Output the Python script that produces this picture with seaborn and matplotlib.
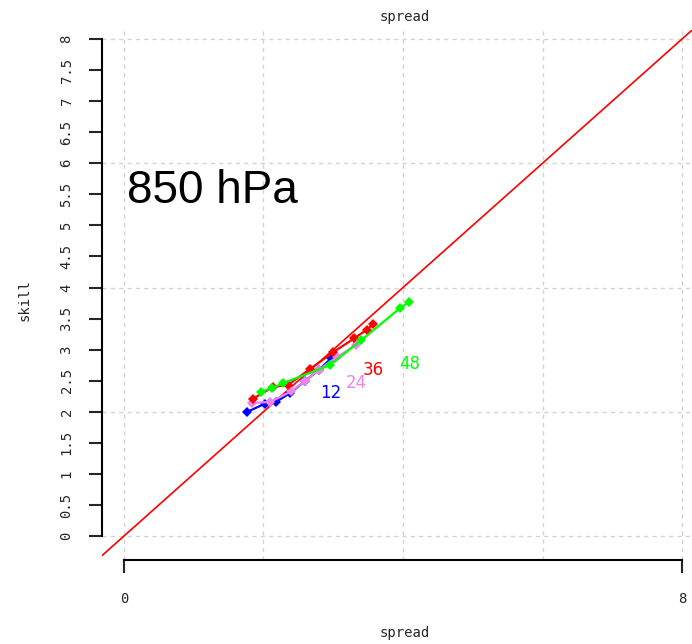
import matplotlib
matplotlib.use("Agg")
import matplotlib.pyplot as plt
import seaborn as sns
import pandas as pd

# Spread-skill pairs for each forecast lead time (hours), 850 hPa
leads = ["12", "24", "36", "48"]
spread_12 = [1.77, 2.02, 2.18, 2.38, 2.60, 2.80, 2.97]
skill_12 = [2.00, 2.13, 2.16, 2.30, 2.50, 2.68, 2.86]
spread_24 = [1.83, 2.10, 2.40, 2.60, 2.80, 3.05, 3.33]
skill_24 = [2.14, 2.16, 2.33, 2.50, 2.68, 2.88, 3.08]
spread_36 = [1.85, 2.14, 2.35, 2.67, 3.00, 3.30, 3.48, 3.57]
skill_36 = [2.21, 2.40, 2.43, 2.69, 2.96, 3.18, 3.32, 3.41]
spread_48 = [1.96, 2.12, 2.28, 2.95, 3.40, 3.96, 4.09]
skill_48 = [2.32, 2.38, 2.46, 2.75, 3.15, 3.67, 3.77]

# Lead-time labels placed under the end of each curve
label_x = [2.97, 3.33, 3.57, 4.09]
label_y = [2.30, 2.46, 2.67, 2.77]

y_ticks = [0, 0.5, 1, 1.5, 2, 2.5, 3, 3.5, 4, 4.5, 5, 5.5, 6, 6.5, 7, 7.5, 8]
x_ticks = [0, 8]
grid_vals = [0, 2, 4, 6, 8]

colors = {"12": "#0000ff", "24": "#ee82ee", "36": "#ff0000", "48": "#00ff00"}

frames = []
for lead, sx, sy in zip(leads, [spread_12, spread_24, spread_36, spread_48],
                        [skill_12, skill_24, skill_36, skill_48]):
    frames.append(pd.DataFrame({"spread": sx, "skill": sy, "lead": lead}))
df = pd.concat(frames, ignore_index=True)

sns.set_style("white")
plt.rcParams["font.family"] = ["DejaVu Sans Mono", "DejaVu Sans"]

fig = plt.figure(figsize=(6.92, 6.44), dpi=100)
ax = fig.add_axes([102 / 692, 84 / 644, 602 / 692, 530 / 644])
ax.set_xlim(-0.315, 8.315)
ax.set_ylim(-0.386, 8.145)

# dotted reference grid
for g in grid_vals:
    ax.axvline(g, color="#d3d3d3", lw=1, ls=(0, (3, 3)), zorder=0)
    ax.axhline(g, color="#d3d3d3", lw=1, ls=(0, (3, 3)), zorder=0)

# perfect spread-skill relation
ax.axline((0, 0), slope=1, color="red", lw=1.2, zorder=1)

sns.lineplot(data=df, x="spread", y="skill", hue="lead", palette=colors,
             sort=False, estimator=None, lw=1.6, marker="D", markersize=5,
             markeredgewidth=0, legend=False, ax=ax, zorder=2)

for lead, lx, ly in zip(leads, label_x, label_y):
    ax.text(lx, ly, lead, color=colors[lead], fontsize=12,
            family="DejaVu Sans", ha="center", va="center")

ax.text(0.05, 5.55, "850 hPa", fontsize=33, family="Liberation Sans",
        ha="left", va="center", color="black")

# R-style axes: bounded spines with outward ticks
for s in ["top", "right"]:
    ax.spines[s].set_visible(False)
for s in ["left", "bottom"]:
    ax.spines[s].set_color("black")
    ax.spines[s].set_linewidth(1.5)
    ax.spines[s].set_bounds(0, 8)

ax.set_yticks(y_ticks)
ax.set_yticklabels([f"{v:g}" for v in y_ticks], rotation=90, va="center")
ax.set_xticks(x_ticks)
ax.set_xticklabels([str(v) for v in x_ticks])
ax.tick_params(axis="y", direction="out", length=9.5, width=1.5, pad=11,
               labelsize=10, left=True)
ax.tick_params(axis="x", direction="out", length=9, width=1.5, pad=14,
               labelsize=10, bottom=True)
ax.set_xlabel("")
ax.set_ylabel("")

fig.text(405 / 692, 1 - 17 / 644, "spread", ha="center", va="center", fontsize=10)
fig.text(405 / 692, 1 - 633 / 644, "spread", ha="center", va="center", fontsize=10)
fig.text(25 / 692, 1 - 300 / 644, "skill", ha="center", va="center",
         fontsize=10, rotation=90)

fig.savefig("out.png", dpi=100)
